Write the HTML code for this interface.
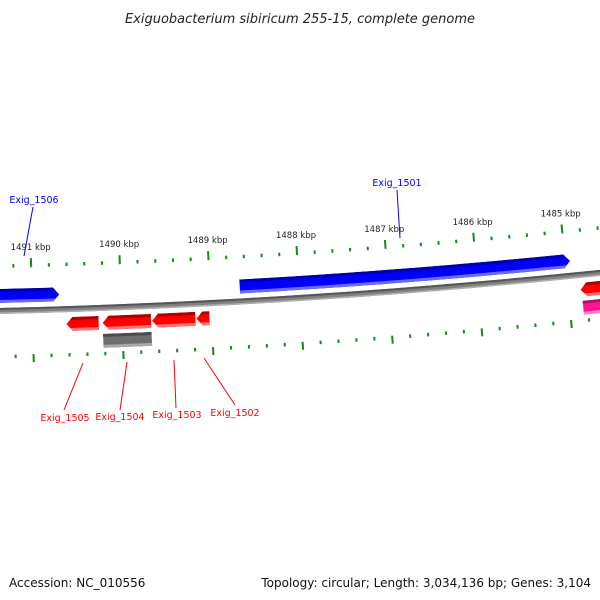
<!DOCTYPE html>
<html><head><meta charset="utf-8"><style>
body{margin:0;background:#fff;}
svg{display:block;font-family:"DejaVu Sans","Liberation Sans",sans-serif;}
</style></head><body>
<svg id="map" width="600" height="600" viewBox="0 0 600 600" xmlns="http://www.w3.org/2000/svg">
<rect width="600" height="600" fill="#fff"/>
<text x="300" y="23" text-anchor="middle" font-size="13" font-style="italic" fill="#222">Exiguobacterium sibiricum 255-15, complete genome</text>
<g id="layer"></g>
<text x="9" y="587" font-size="12" fill="#111">Accession: NC_010556</text>
<text x="591" y="587" text-anchor="end" font-size="12" fill="#111">Topology: circular; Length: 3,034,136 bp; Genes: 3,104</text>
</svg>
<script>
const tickStart = 1484400;
const tickEnd = 1491600;
const tickStep = 200;
const majorStep = 1000;
const geneNames = ["Exig_1506","Exig_1501","Exig_1505","Exig_1504","Exig_1503","Exig_1502","gene-right-red"];
const geneStarts = [1490694,1484946,1490263,1489677,1489180,1489022,1484300];
const geneEnds   = [1492600,1488665,1490623,1490218,1489665,1489168,1484860];
const geneStrands = [1,1,-1,-1,-1,-1,-1];
const featNames = ["feature-grey","feature-pink"];
const featStarts = [1489677,1484300];
const featEnds = [1490218,1484850];
const featColors = ["grey","pink"];

const NS="http://www.w3.org/2000/svg";
const CX=-175, CY=-7187, K=1.19e-5, PHI0=0.06335, REF=1488000;
const layer=document.getElementById('layer');
function pt(bp,r){const p=PHI0+(REF-bp)*K;return [CX+r*Math.sin(p),CY+r*Math.cos(p)];}
function arcPts(a,b,r){const o=[];for(let i=0;i<=24;i++){o.push(pt(a+(b-a)*i/24,r));}return o;}
function ps(arr){return arr.map(p=>p[0].toFixed(2)+","+p[1].toFixed(2)).join(" ");}
function mk(tag,attrs,parent){const e=document.createElementNS(NS,tag);for(const k in attrs)e.setAttribute(k,attrs[k]);(parent||layer).appendChild(e);return e;}
let cid=0;
function band(a,b,r1,r2,fill,g,clip){
  const p=mk('polygon',{points:ps(arcPts(a,b,r1).concat(arcPts(b,a,r2))),fill:fill},g);
  if(clip)p.setAttribute('clip-path','url(#'+clip+')');
  return p;
}
const defs=mk('defs',{});
const pal={blue:["#0000a8","#0000ff","#6a6aff"],red:["#b00000","#ff0000","#ff7070"],grey:["#4a4a4a","#6e6e6e","#a8a8a8"],pink:["#b0106a","#ff1493","#ff80c8"]};
function shape(a,b,r1,r2,head,dir){
  const mid=(r1+r2)/2;
  if(dir===0)return arcPts(a,b,r1).concat(arcPts(b,a,r2));
  if(dir<0){const s=a+head;return [pt(a,mid)].concat(arcPts(s,b,r1),arcPts(b,s,r2));}
  const e=b-head;return arcPts(a,e,r1).concat([pt(b,mid)],arcPts(e,a,r2));
}
function drawFeature(name,a,b,r1,r2,colors,dir){
  const g=mk('g',{});
  
  
  const id='c'+(cid++);
  const cp=mk('clipPath',{id:id},defs);
  mk('polygon',{points:ps(shape(a,b,r1,r2,70,dir))},cp);
  const lo=Math.min(a,b)-200,hi=Math.max(a,b)+200;
  band(lo,hi,r1,r2,colors[1],g,id);
  band(lo,hi,r1,r1+3,colors[0],g,id);
  band(lo,hi,r2-3,r2,colors[2],g,id);
}
const bb=mk('g',{});


band(1483000,1493500,7497,7503,"#808080",bb);
band(1483000,1493500,7497,7499,"#555",bb);
band(1483000,1493500,7501.5,7503,"#b0b0b0",bb);
for(let bp=tickStart;bp<=tickEnd;bp+=tickStep){
  const major=bp%majorStep===0;
  const w=11.5;
  const t1=mk('polygon',{points:ps([pt(bp-w,7457),pt(bp+w,7457),pt(bp+w,major?7448:7453.5),pt(bp-w,major?7448:7453.5)]),fill:"#1a8a1a"});
  
  
  const t2=mk('polygon',{points:ps([pt(bp-w,7544),pt(bp+w,7544),pt(bp+w,major?7552:7547.5),pt(bp-w,major?7552:7547.5)]),fill:"#1a8a1a"});
  
  
  if(major){
    const p=pt(bp,7440);
    const t=mk('text',{x:p[0].toFixed(1),y:p[1].toFixed(1),'text-anchor':'middle','font-size':'8.5',fill:'#222'});
    
    
    t.textContent=(bp/1000)+" kbp";
  }
}
for(let i=0;i<geneNames.length;i++){
  if(geneStrands[i]>0)drawFeature(geneNames[i],geneStarts[i],geneEnds[i],7478,7492,pal.blue,-1);
  else drawFeature(geneNames[i],geneStarts[i],geneEnds[i],7508,7522,pal.red,1);
}
for(let i=0;i<featNames.length;i++){
  drawFeature(featNames[i],featStarts[i],featEnds[i],7526,7540,pal[featColors[i]],0);
}
const labels=[
 {t:"Exig_1506",x:34,y:203,lx1:33,ly1:207,lx2:24,ly2:256,c:"#0000ff"},
 {t:"Exig_1501",x:397,y:186,lx1:397,ly1:190,lx2:400,ly2:238,c:"#0000ff"},
 {t:"Exig_1505",x:65,y:421,lx1:64,ly1:410,lx2:83,ly2:363,c:"#ff0000"},
 {t:"Exig_1504",x:120,y:420,lx1:120,ly1:410,lx2:127,ly2:362,c:"#ff0000"},
 {t:"Exig_1503",x:177,y:418,lx1:176,ly1:408,lx2:174,ly2:360,c:"#ff0000"},
 {t:"Exig_1502",x:235,y:416,lx1:235,ly1:405,lx2:204,ly2:358,c:"#ff0000"}
];
labels.forEach(l=>{
  const ln=mk('line',{x1:l.lx1,y1:l.ly1,x2:l.lx2,y2:l.ly2,stroke:l.c,'stroke-width':1});
  
  
  const t=mk('text',{x:l.x,y:l.y,'text-anchor':'middle','font-size':'9.5',fill:l.c});
  
  
  t.textContent=l.t;
});
</script>
</body></html>
